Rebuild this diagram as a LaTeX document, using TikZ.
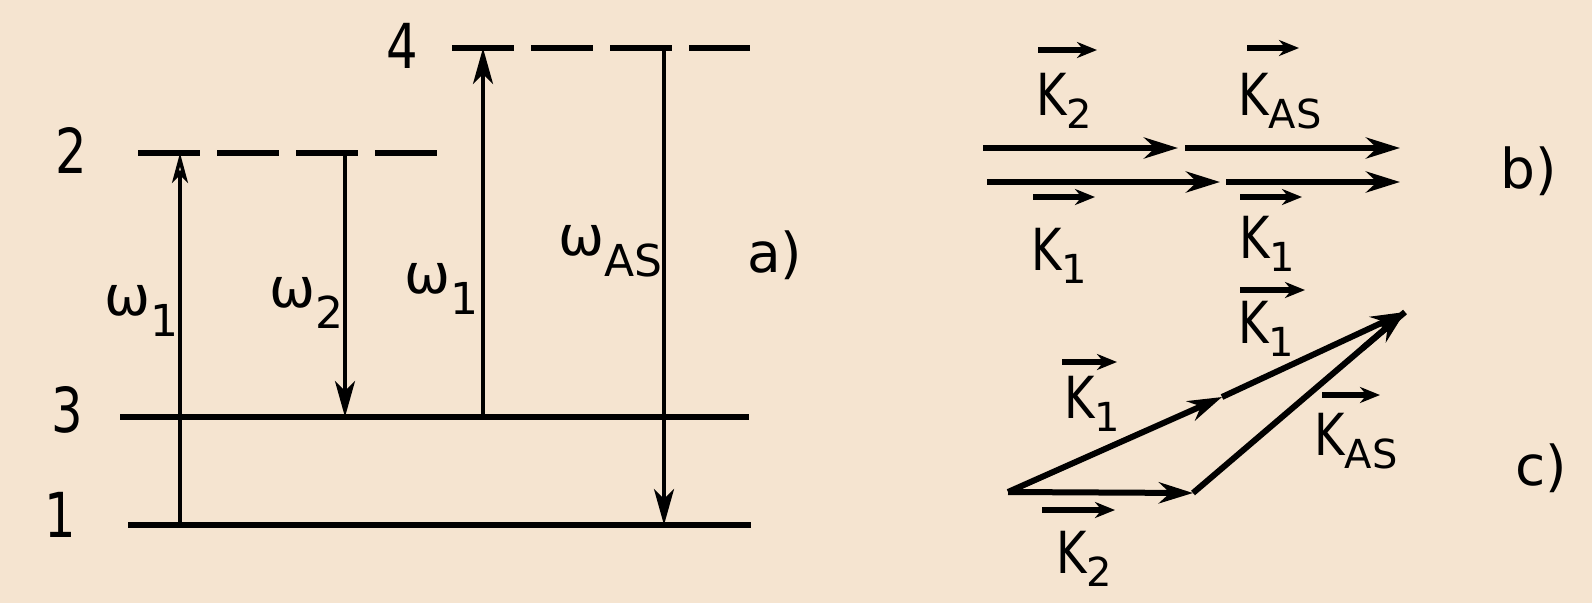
\documentclass[tikz,border=0pt]{standalone}
\usepackage{fontspec}
\setmainfont{DejaVu Sans}
\newfontfamily\cfont{DejaVu Sans}[FakeStretch=0.8]
\usetikzlibrary{arrows.meta,calc}
\definecolor{paper}{RGB}{245,228,208}
\newcommand\wsub[1]{\raisebox{-21pt}{\fontsize{44}{44}\selectfont #1}}
\newcommand\ksub[1]{\raisebox{-13pt}{\rmfamily\fontsize{40}{40}\selectfont #1}}
\tikzset{
 lbl/.style={font=\fontsize{55}{60}\selectfont, inner sep=0pt, anchor=base west},
 dig/.style={font=\cfont\fontsize{62}{66}\selectfont, inner sep=0pt, anchor=center},
 klbl/.style={font=\cfont\fontsize{58}{60}\selectfont, inner sep=0pt, anchor=base west},
 lvl/.style={line width=6pt},
 dlvl/.style={line width=6pt, dash pattern=on 62pt off 17pt},
 tr/.style={line width=4pt, -{Stealth[length=36pt,width=20pt,inset=10pt]}},
 tropen/.style={line width=3.5pt, -{Stealth[open,length=30pt,width=16pt,inset=8pt]}},
 vecar/.style={line width=6pt, -{Stealth[length=34pt,width=21pt]}},
 vecln/.style={line width=6pt},
 karrow/.style={line width=5.5pt, -{Stealth[length=20pt,width=16pt]}},
}
\begin{document}
\begin{tikzpicture}[x=1pt,y=-1pt]
\fill[paper] (0,0) rectangle (1592,603);
\useasboundingbox (0,0) rectangle (1592,603);
% levels
\coordinate (l4a) at (452,48);  \coordinate (l4b) at (750,48);
\coordinate (l2a) at (138,153); \coordinate (l2b) at (437,153);
\coordinate (l3a) at (120,417); \coordinate (l3b) at (749,417);
\coordinate (l1a) at (128,525); \coordinate (l1b) at (751,525);
\draw[dlvl] (l4a) -- (l4b);
\draw[dlvl] (l2a) -- (l2b);
\draw[lvl] (l3a) -- (l3b);
\draw[lvl] (l1a) -- (l1b);
\node[dig] (n4) at (402,46) {4};
\node[dig] (n2) at (71,150) {2};
\node[dig] (n3) at (67,410) {3};
\node[dig] (n1) at (60,515) {1};
% transitions
\coordinate (t1s) at (180,525); \coordinate (t1e) at (180,153);
\coordinate (t2s) at (345,153); \coordinate (t2e) at (345,417);
\coordinate (t3s) at (483,417); \coordinate (t3e) at (483,48);
\coordinate (t4s) at (664,48);  \coordinate (t4e) at (664,525);
\draw[tropen] (t1s) -- (t1e);
\draw[tr] (t2s) -- (t2e);
\draw[tr] (t3s) -- (t3e);
\draw[tr] (t4s) -- (t4e);
\node[lbl] (w1a) at (104,315) {ω\wsub{1}};
\node[lbl] (w2) at (269,307) {ω\wsub{2}};
\node[lbl] (w1b) at (404,293) {ω\wsub{1}};
\node[lbl] (was) at (558,255) {ω\wsub{AS}};
\node[lbl] (la) at (747,272) {a)};
% panel b
\coordinate (b1) at (983,148); \coordinate (b2) at (1178,148);
\coordinate (b3) at (1185,148); \coordinate (b4) at (1400,148);
\coordinate (b5) at (987,182); \coordinate (b6) at (1220,182);
\coordinate (b7) at (1226,182); \coordinate (b8) at (1400,182);
\draw[vecar] (b1) -- (b2);
\draw[vecar] (b3) -- (b4);
\draw[vecar] (b5) -- (b6);
\draw[vecar] (b7) -- (b8);
\node[klbl] (bk2) at (1036,115) {K\ksub{2}};
\node[klbl] (bkas) at (1238,115) {K\ksub{AS}};
\node[klbl] (bk1a) at (1031,270) {K\ksub{1}};
\node[klbl] (bk1b) at (1239,258) {K\ksub{1}};
\draw[karrow] ([shift={(2,-65)}]bk2.base west) -- ++(59,0);
\draw[karrow] ([shift={(9,-67)}]bkas.base west) -- ++(52,0);
\draw[karrow] ([shift={(2,-73)}]bk1a.base west) -- ++(62,0);
\draw[karrow] ([shift={(1,-61)}]bk1b.base west) -- ++(62,0);
\node[lbl] (lb) at (1500,188) {b)};
% panel c
\coordinate (cO) at (1008,492);
\coordinate (cA) at (1193,493);
\coordinate (cM) at (1222,397);
\coordinate (cP) at (1405,312);
\coordinate (cQ) at ($(cA)!0.8!(cP)$);
\draw[vecln] (cA) -- (cP);
\draw[vecar] (cO) -- (cA);
\draw[vecar] (cO) -- (cM);
\draw[vecar] (cM) -- (cP);
\draw[vecar] (cQ) -- (cP);
\node[klbl] (ck1a) at (1064,418) {K\ksub{1}};
\node[klbl] (ck1b) at (1238,343) {K\ksub{1}};
\node[klbl] (ckas) at (1314,455) {K\ksub{AS}};
\node[klbl] (ck2) at (1056,573) {K\ksub{2}};
\draw[karrow] ([shift={(-2,-56)}]ck1a.base west) -- ++(55,0);
\draw[karrow] ([shift={(2,-53)}]ck1b.base west) -- ++(65,0);
\draw[karrow] ([shift={(8,-60)}]ckas.base west) -- ++(58,0);
\draw[karrow] ([shift={(-14,-63)}]ck2.base west) -- ++(73,0);
\node[lbl] (lc) at (1515,485) {c)};
\end{tikzpicture}
\end{document}
